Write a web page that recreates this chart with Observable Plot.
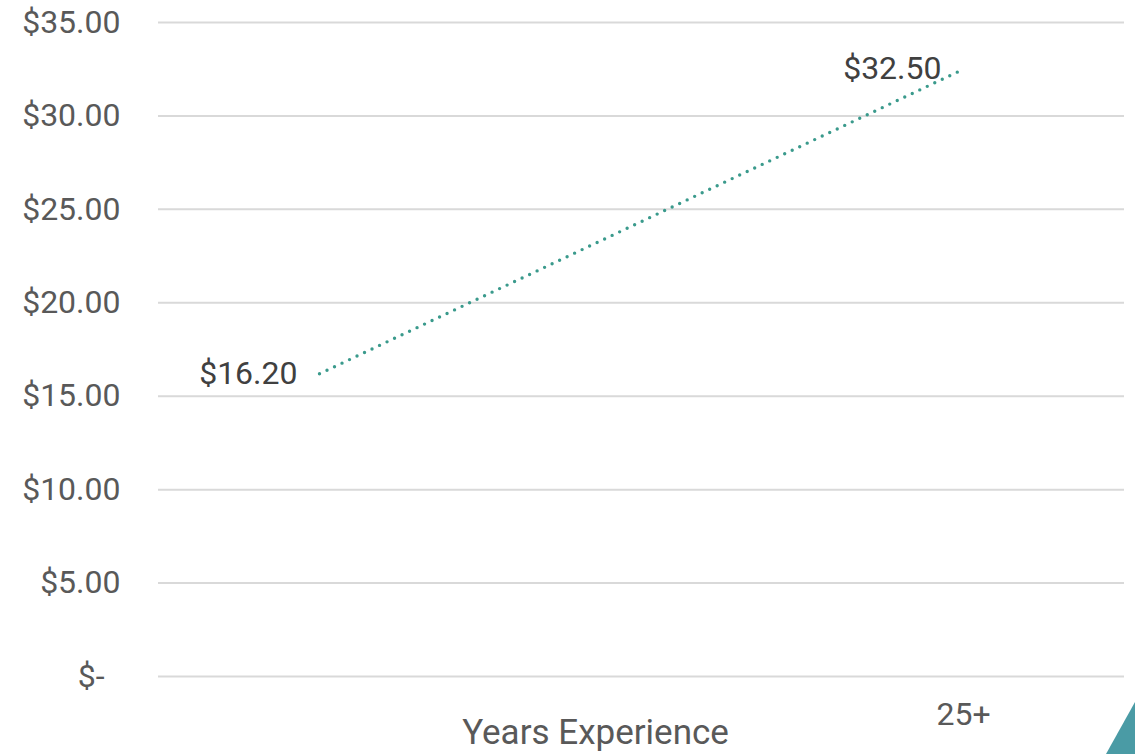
<!DOCTYPE html>
<html>
<head>
<meta charset="utf-8">
<script src="https://cdn.jsdelivr.net/npm/d3@7"></script>
<script src="https://cdn.jsdelivr.net/npm/@observablehq/plot@0.6"></script>
<style>
  html, body { margin: 0; padding: 0; background: #fff; }
  #wrap { position: relative; width: 1135px; height: 754px; overflow: hidden; }
  #deco { position: absolute; left: 0; top: 0; pointer-events: none; }
</style>
</head>
<body>
<div id="wrap"></div>
<script>
// Categories (three slots on the x axis; only the last one is labelled)
const categories = ["", " ", "25+"];
// Series: hourly wage by experience
const pointCategories = ["", "25+"];
const wages = [16.20, 32.50];
// Y tick values
const yTicks = [0, 5, 10, 15, 20, 25, 30, 35];
const xTitle = "Years Experience";

const data = pointCategories.map((c, i) => ({ cat: c, wage: wages[i] }));

const fmtMoney = v => v === 0 ? "$-\u00a0\u00a0" : "$" + d3.format(".2f")(v);

const chart = Plot.plot({
  width: 1135,
  height: 754,
  marginTop: 22,
  marginBottom: 78,
  marginLeft: 158,
  marginRight: 11,
  style: { fontFamily: "Roboto, 'Liberation Sans', sans-serif", background: "#fff", overflow: "visible" },
  x: { type: "point", domain: categories, padding: 0.5, label: null },
  y: { domain: [0, 35], label: null },
  marks: [
    Plot.gridY(yTicks, { stroke: "#d9d9d9", strokeOpacity: 1, strokeWidth: 2 }),
    Plot.axisY(yTicks, {
      tickSize: 0, tickPadding: 38, tickFormat: fmtMoney,
      fontSize: 32, fill: "#595959", label: null
    }),
    Plot.axisX({
      tickSize: 0, tickPadding: 26, fontSize: 32, fill: "#595959", label: null
    }),
    Plot.line(data, {
      x: "cat", y: "wage", stroke: "#3a9a8c", strokeWidth: 3.4,
      strokeDasharray: "0 8.3", strokeLinecap: "round"
    }),
    Plot.text(data, {
      x: "cat", y: "wage", text: d => fmtMoney(d.wage),
      textAnchor: "end", dx: -22, fontSize: 32, fill: "#404040"
    }),
    Plot.text([xTitle], {
      frameAnchor: "bottom", dx: -46, dy: 67, fontSize: 35, fill: "#595959"
    })
  ]
});

const wrap = document.getElementById("wrap");
wrap.appendChild(chart);

// decorative corner triangle
const ns = "http://www.w3.org/2000/svg";
const deco = document.createElementNS(ns, "svg");
deco.setAttribute("id", "deco");
deco.setAttribute("width", 1135);
deco.setAttribute("height", 754);
const poly = document.createElementNS(ns, "polygon");
poly.setAttribute("points", "1135,702 1135,754 1106,754");
poly.setAttribute("fill", "#4a9ba5");
deco.appendChild(poly);
wrap.appendChild(deco);
</script>
</body>
</html>
